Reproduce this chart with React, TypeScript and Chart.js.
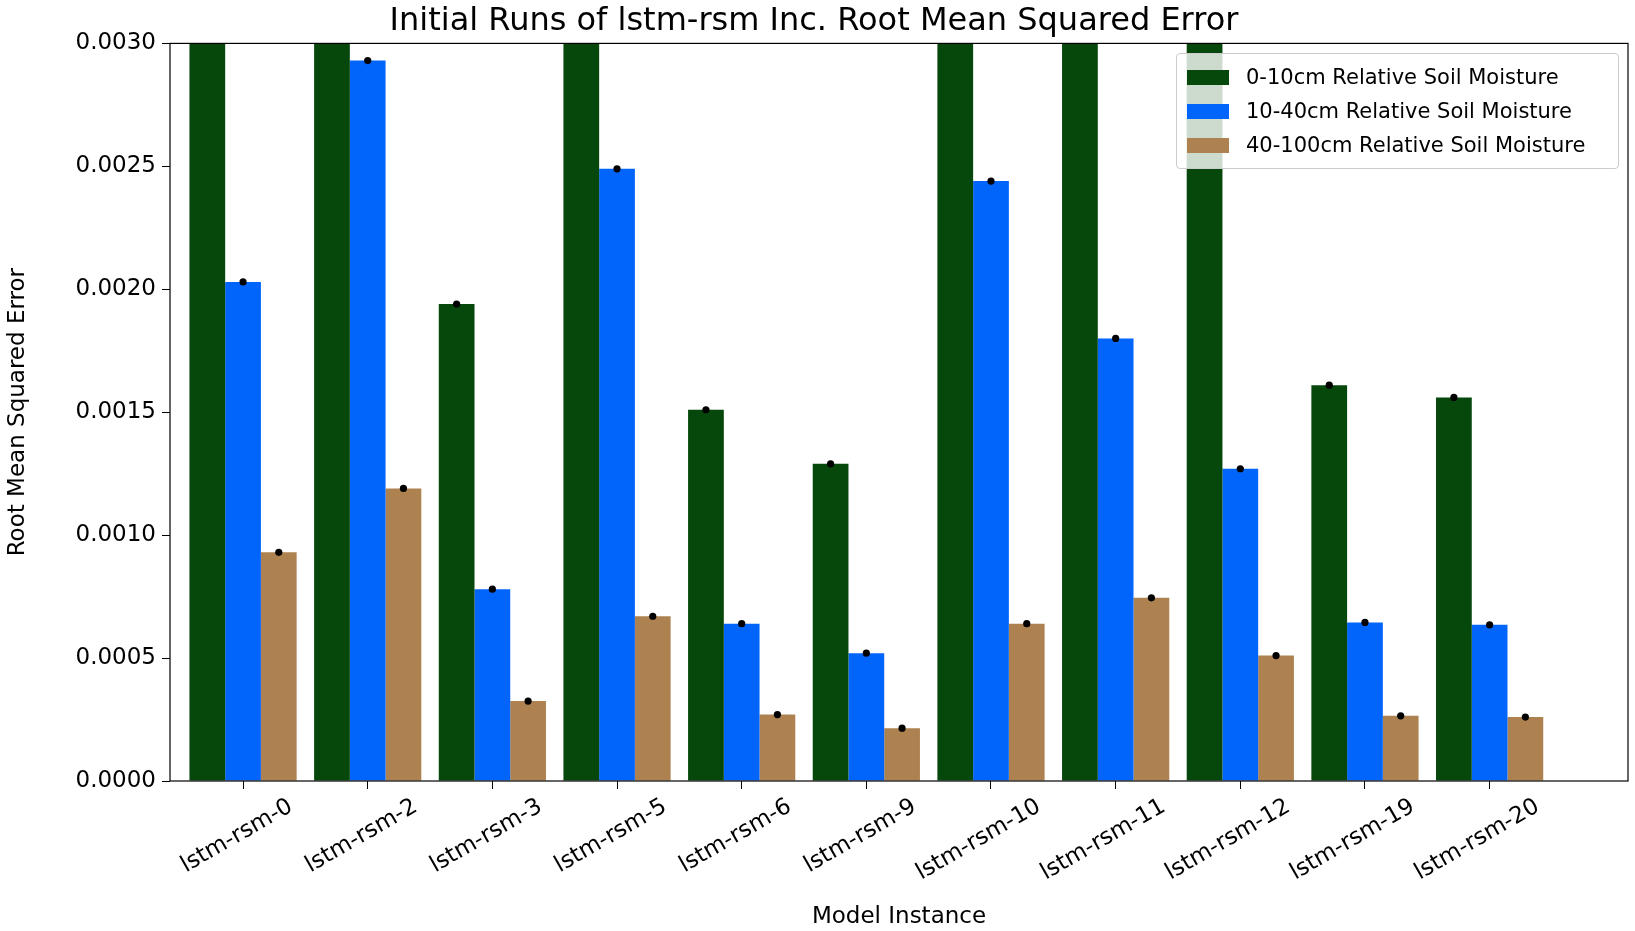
import React, { useEffect, useRef } from "react";
import { Chart, registerables } from "chart.js";
Chart.register(...registerables);

const categories = ["lstm-rsm-0","lstm-rsm-2","lstm-rsm-3","lstm-rsm-5","lstm-rsm-6","lstm-rsm-9","lstm-rsm-10","lstm-rsm-11","lstm-rsm-12","lstm-rsm-19","lstm-rsm-20"];
const shallow = [0.0036,0.0037,0.00194,0.0035,0.00151,0.00129,0.0036,0.0034,0.0032,0.00161,0.00156];
const middle = [0.00203,0.00293,0.00078,0.00249,0.00064,0.00052,0.00244,0.0018,0.00127,0.000645,0.000635];
const deep = [0.00093,0.00119,0.000325,0.00067,0.00027,0.000215,0.00064,0.000745,0.00051,0.000265,0.00026];
const seriesNames = ["0-10cm Relative Soil Moisture","10-40cm Relative Soil Moisture","40-100cm Relative Soil Moisture"];
const colors = ["#06470c","#0165fc","#ad8150"];
const yTicks = [0,0.0005,0.001,0.0015,0.002,0.0025,0.003];

const font = "'DejaVu Sans', sans-serif";

export default function App() {
  const ref = useRef<HTMLCanvasElement>(null);
  useEffect(() => {
    const dotPlugin = {
      id: "dots",
      afterDatasetsDraw(chart: any) {
        const ctx = chart.ctx, a = chart.chartArea;
        ctx.save();
        chart.data.datasets.forEach((_: any, i: number) => {
          chart.getDatasetMeta(i).data.forEach((el: any) => {
            if (el.y >= a.top + 1) {
              ctx.fillStyle = "#000";
              ctx.beginPath(); ctx.arc(el.x, el.y, 3.6, 0, Math.PI * 2); ctx.fill();
            }
          });
        });
        ctx.strokeStyle = "#000"; ctx.lineWidth = 1.2;
        ctx.strokeRect(a.left, a.top, a.right - a.left, a.bottom - a.top);
        ctx.restore();
      },
    };
    const mk = (arr: number[]) => arr.map((v, i) => ({ x: i, y: v }));
    const chart = new Chart(ref.current!, {
      type: "bar",
      data: {
        datasets: [shallow, middle, deep].map((d, i) => ({
          label: seriesNames[i], data: mk(d), backgroundColor: colors[i],
          barPercentage: 1, categoryPercentage: 0.86,
        })),
      },
      plugins: [dotPlugin],
      options: {
        animation: false, responsive: false, devicePixelRatio: 1,
        layout: { padding: { left: 0, right: 7, top: 0, bottom: 0 } },
        plugins: {
          legend: { display: false }, tooltip: { enabled: false },
          title: { display: true, text: "Initial Runs of lstm-rsm Inc. Root Mean Squared Error", color: "#000", font: { family: font, size: 32, weight: "normal" }, padding: { top: 2, bottom: 3 } },
        },
        scales: {
          x: {
            type: "linear", min: -0.586, max: 11.11, offset: false,
            afterBuildTicks: (s: any) => { s.ticks = categories.map((_, i) => ({ value: i })); },
            afterFit: (s: any) => { s.height = 150; },
            ticks: { callback: (v: any) => categories[v] ?? "", maxRotation: 30, minRotation: 30, color: "#000", font: { family: font, size: 23 }, padding: 4, labelOffset: 48 },
            grid: { display: true, drawOnChartArea: false, tickLength: 8, color: "#000", offset: false },
            border: { display: false },
            title: { display: true, text: "Model Instance", color: "#000", font: { family: font, size: 23 }, padding: { top: 0, bottom: 0 } },
          },
          y: {
            min: 0, max: 0.003,
            afterBuildTicks: (s: any) => { s.ticks = yTicks.map(v => ({ value: v })); },
            afterFit: (s: any) => { s.width = 170; },
            ticks: { callback: (v: any) => Number(v).toFixed(4), color: "#000", font: { family: font, size: 23 }, padding: 6 },
            grid: { display: true, drawOnChartArea: false, tickLength: 8, color: "#000" },
            border: { display: false },
            title: { display: true, text: "Root Mean Squared Error", color: "#000", font: { family: font, size: 23 }, padding: { bottom: 4 } },
          },
        },
      } as any,
    });
    return () => chart.destroy();
  }, []);
  return (
    <div style={{ position: "fixed", left: 0, top: 0, width: 1635, height: 931, background: "#fff" }}>
      <canvas ref={ref} width={1635} height={931} />
      <div style={{ position: "absolute", left: 1176, top: 53, width: 443, padding: "6px 10px", border: "1px solid #ccc", borderRadius: 4, background: "rgba(255,255,255,0.8)", fontFamily: font, fontSize: 21, boxSizing: "border-box" }}>
        {seriesNames.map((n, i) => (
          <div key={n} style={{ display: "flex", alignItems: "center", height: 34 }}>
            <span style={{ display: "inline-block", width: 42, height: 15, background: colors[i], marginRight: 17 }} />
            {n}
          </div>
        ))}
      </div>
    </div>
  );
}
